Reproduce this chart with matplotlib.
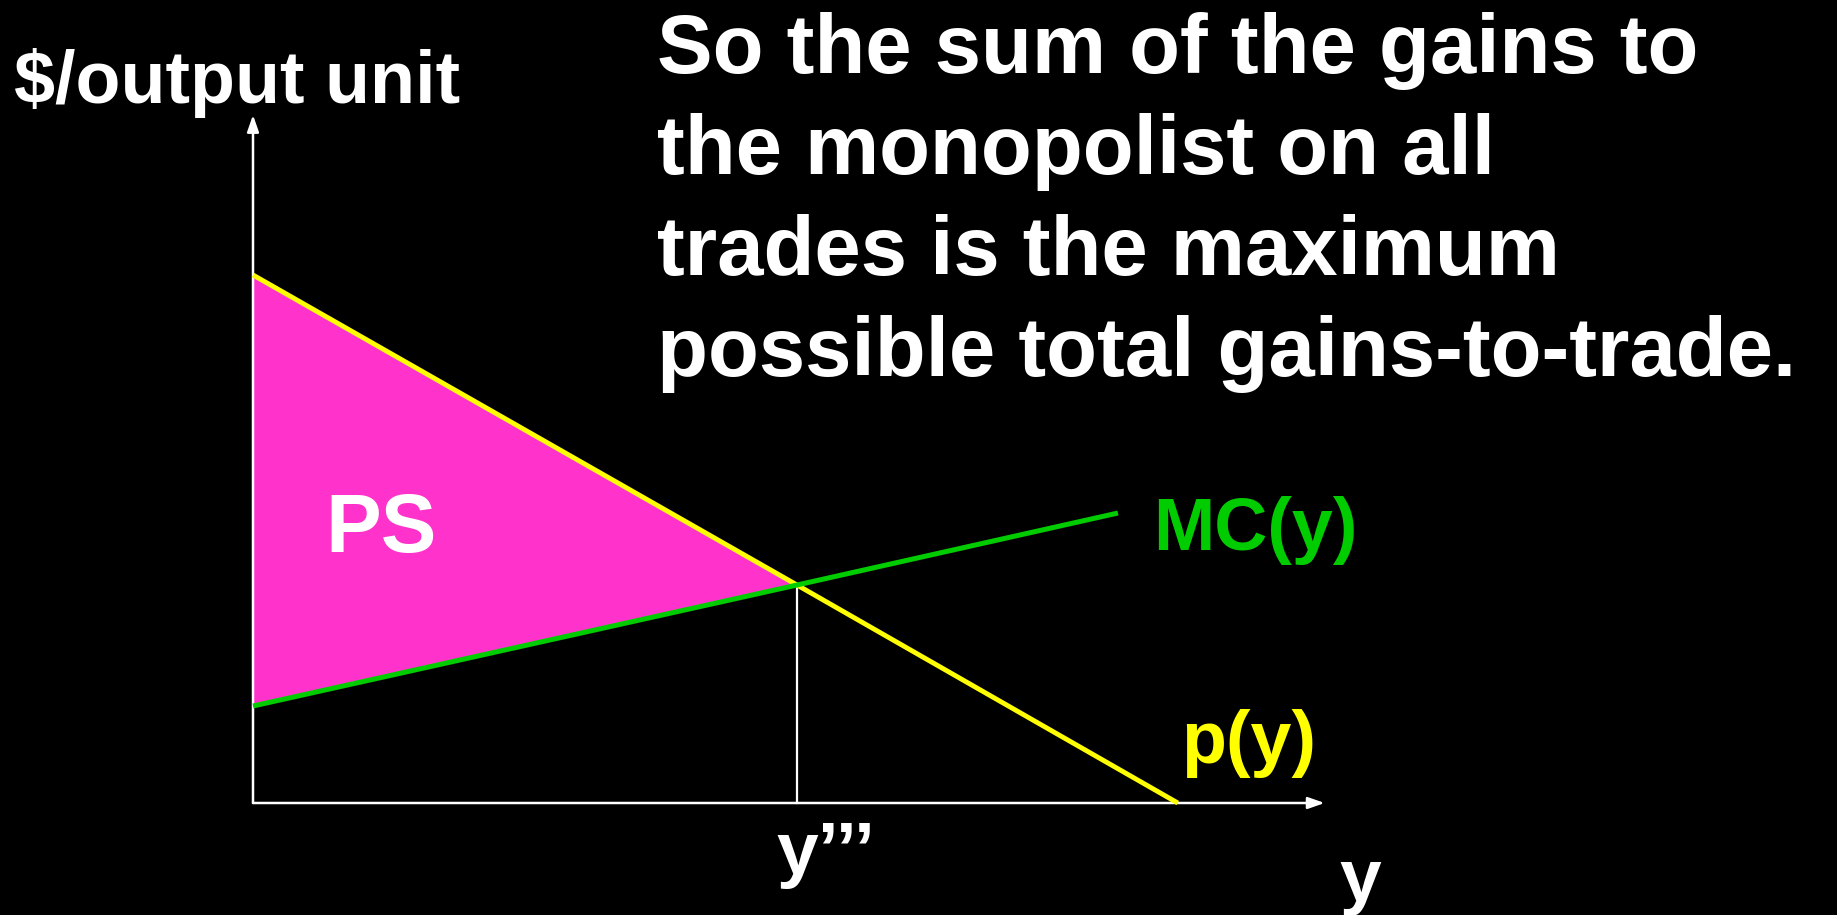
import matplotlib
matplotlib.use("Agg")
import matplotlib.pyplot as plt

# ---- data ----
demand_q = [0.0, 1.0, 1.70]
demand_p = [5.28, 2.18, 0.0]
mc_q = [0.0, 1.0, 1.59]
mc_p = [0.97, 2.18, 2.90]
y_star = 1.0
x_axis_end = 1.97
y_axis_end = 6.88

title_lines = ["So the sum of the gains to",
               "the monopolist on all",
               "trades is the maximum",
               "possible total gains-to-trade."]
ylabel = "$/output unit"
xlabel = "y"
ps_label = "PS"
mc_label = "MC(y)"
p_label = "p(y)"
ystar_label = "y\u2019\u2019\u2019"

# ---- figure ----
W, H = 1837, 915
fig = plt.figure(figsize=(W / 100, H / 100), dpi=100, facecolor="black")
ax = fig.add_axes([0, 0, 1, 1])
ax.set_facecolor("black")
ox, oy, sx, sy = 253, 803, 544, 100
ax.set_xlim((0 - ox) / sx, (W - ox) / sx)
ax.set_ylim((oy - H) / sy, oy / sy)
ax.axis("off")

font = "Liberation Sans"

# PS fill
ax.fill_between(demand_q[:2], demand_p[:2], mc_p[:2], color="#FF33CC", lw=0, zorder=1)

# vertical line at y'''
ax.plot([y_star, y_star], [0, demand_p[1]], color="white", lw=1.6, zorder=2)

# axes arrows
arrow = dict(arrowstyle="-|>,head_length=1.0,head_width=0.35", color="white", lw=1.8,
             shrinkA=0, shrinkB=0)
ax.annotate("", xy=(x_axis_end, 0), xytext=(0, 0), arrowprops=arrow, zorder=3)
ax.annotate("", xy=(0, y_axis_end), xytext=(0, 0), arrowprops=arrow, zorder=3)

# curves
ax.plot(demand_q, demand_p, color="#FFFF00", lw=3.5, solid_capstyle="butt", zorder=4)
ax.plot(mc_q, mc_p, color="#00CC00", lw=3.6, solid_capstyle="butt", zorder=5)

# texts
for i, line in enumerate(title_lines):
    ax.text((657 - ox) / sx, (oy - (73 + i * 101)) / sy, line, color="white",
            fontsize=60, fontweight="bold", family=font, ha="left", va="baseline")

ax.text((14 - ox) / sx, (oy - 103) / sy, ylabel, color="white", fontsize=53,
        fontweight="bold", family=font, ha="left", va="baseline")
ax.text((381 - ox) / sx, (oy - 552) / sy, ps_label, color="white", fontsize=60,
        fontweight="bold", family=font, ha="center", va="baseline")
ax.text((1153 - ox) / sx, (oy - 550) / sy, mc_label, color="#00CC00", fontsize=53,
        fontweight="bold", family=font, ha="left", va="baseline")
ax.text((1181 - ox) / sx, (oy - 763) / sy, p_label, color="#FFFF00", fontsize=53,
        fontweight="bold", family=font, ha="left", va="baseline")
ax.text((826 - ox) / sx, (oy - 874) / sy, ystar_label, color="white", fontsize=54,
        fontweight="bold", family=font, ha="center", va="baseline")
ax.text((1360 - ox) / sx, (oy - 901) / sy, xlabel, color="white", fontsize=54,
        fontweight="bold", family=font, ha="center", va="baseline")

fig.savefig("out.png", dpi=100, facecolor="black")
